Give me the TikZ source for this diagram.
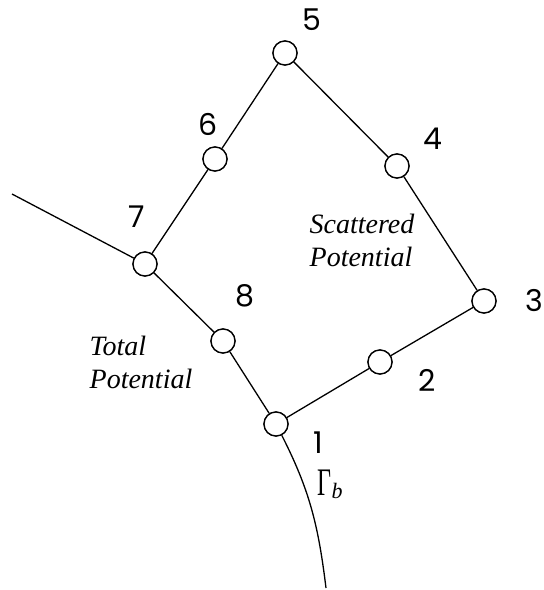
\documentclass[tikz,border=0pt]{standalone}
\usepackage{fontspec}
\newfontfamily\digitfont{Poppins}
\newfontfamily\tnr{Liberation Serif}
\begin{document}
\begin{tikzpicture}[x=1pt,y=-1pt,
  line width=1.3pt,
  pt/.style={circle,draw,fill=white,minimum size=24pt,inner sep=0pt},
  num/.style={font=\digitfont\fontsize{30}{36}\selectfont,inner sep=0pt},
  region/.style={font=\tnr\itshape\fontsize{28}{33}\selectfont,align=left,inner sep=0pt}]
\useasboundingbox (0,0) rectangle (544,590);
\clip (0,0) rectangle (544,590);
% points
\coordinate (s) at (12,194);
\coordinate (e) at (326,588);
\node[pt] (n1) at (276,424) {};
\node[pt] (n2) at (380,362) {};
\node[pt] (n3) at (484,301) {};
\node[pt] (n4) at (397,166) {};
\node[pt] (n5) at (285,53) {};
\node[pt] (n6) at (215,159) {};
\node[pt] (n7) at (145,264) {};
\node[pt] (n8) at (223,341) {};
% edges
\draw (n1) -- (n2) -- (n3) -- (n4) -- (n5) -- (n6) -- (n7);
\draw (s) -- (n7) -- (n8) -- (n1);
\draw (n1) to[out=-63,in=97] (e);
% redraw nodes on top
\foreach \n in {n1,n2,n3,n4,n5,n6,n7,n8} {\node[pt] at (\n) {};}
% labels
\node[num] (l1) at (318,443) {1};
\node[num] (l2) at (427,380) {2};
\node[num] (l3) at (534,301) {3};
\node[num] (l4) at (433,139) {4};
\node[num] (l5) at (312,20) {5};
\node[num] (l6) at (208,124) {6};
\node[num] (l7) at (137,217) {7};
\node[num] (l8) at (245,296) {8};
\node[inner sep=0pt,anchor=base west] (gb) at (317,495)
  {\tnr\fontsize{39}{40}\selectfont\scalebox{0.62}[1]{Γ}\raisebox{-3pt}{\itshape\fontsize{22}{24}\selectfont b}};
\node[region,anchor=west] (sp) at (309,240) {Scattered\\Potential};
\node[region,anchor=west] (tp) at (89,362) {Total\\Potential};
\end{tikzpicture}
\end{document}
